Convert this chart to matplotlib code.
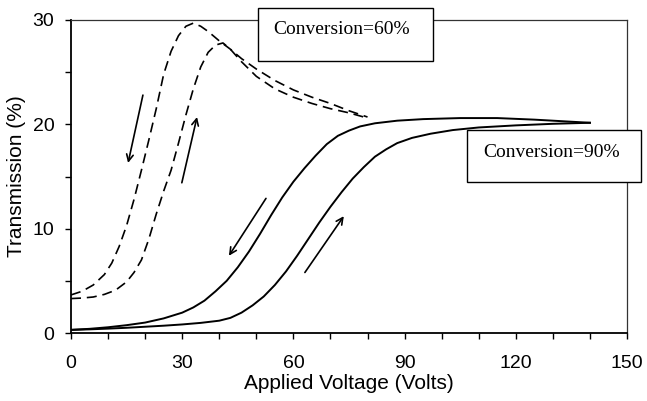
import matplotlib
matplotlib.use("Agg")
import matplotlib.pyplot as plt
from matplotlib.patches import Rectangle
from matplotlib.ticker import MultipleLocator

# Conversion = 60 % (dashed), voltage going down / going up
v60_down = [0, 3, 6, 9, 11, 13, 15, 17, 19, 21, 23, 25, 27, 29, 31, 33, 35, 37, 40, 43, 46, 50, 55, 60, 65, 70, 75, 80]
t60_down = [3.65, 4.0, 4.6, 5.6, 6.7, 8.3, 10.3, 12.8, 15.6, 18.5, 21.5, 24.8, 27.0, 28.5, 29.4, 29.7, 29.4, 28.9,
            28.0, 27.2, 26.3, 25.3, 24.2, 23.3, 22.6, 22.0, 21.3, 20.7]
v60_up = [0, 3, 6, 9, 12, 15, 17, 19, 21, 23, 25, 27, 29, 31, 33, 35, 37, 39, 41, 43, 46, 50, 55, 60, 65, 70, 75, 79]
t60_up = [3.3, 3.35, 3.45, 3.7, 4.1, 4.9, 5.8, 7.0, 9.0, 11.4, 13.6, 15.6, 18.2, 20.9, 23.4, 25.5, 26.9, 27.6,
          27.8, 27.2, 26.0, 24.6, 23.4, 22.6, 22.0, 21.5, 21.1, 20.7]

# Conversion = 90 % (solid)
v90_down = [0, 5, 10, 15, 20, 25, 30, 33, 36, 39, 42, 45, 48, 51, 54, 57, 60, 63, 66, 69, 72, 75, 78, 82, 88, 95,
            105, 115, 125, 140]
t90_down = [0.3, 0.4, 0.55, 0.75, 1.0, 1.4, 1.95, 2.45, 3.1, 4.0, 5.0, 6.3, 7.8, 9.5, 11.3, 13.0, 14.5, 15.8, 17.0,
            18.1, 18.9, 19.4, 19.8, 20.1, 20.35, 20.5, 20.6, 20.6, 20.45, 20.15]
v90_up = [0, 5, 10, 15, 20, 25, 30, 35, 40, 43, 46, 49, 52, 55, 58, 61, 64, 67, 70, 73, 76, 79, 82, 85, 88, 92, 97,
          103, 110, 120, 130, 140]
t90_up = [0.3, 0.35, 0.42, 0.5, 0.6, 0.7, 0.82, 0.97, 1.18, 1.45, 1.95, 2.65, 3.5, 4.6, 5.9, 7.4, 9.0, 10.6, 12.1,
          13.5, 14.8, 15.9, 16.9, 17.6, 18.2, 18.7, 19.1, 19.45, 19.7, 19.9, 20.05, 20.15]

# arrows (start, end)
arrows = [((19.4, 22.8), (15.4, 16.3)),
          ((29.9, 14.4), (34.0, 20.7)),
          ((52.6, 12.9), (42.6, 7.4)),
          ((63.1, 5.8), (73.6, 11.2))]

labels = ["Conversion=60%", "Conversion=90%"]

sans = "Liberation Sans"
serif = "Liberation Serif"

fig = plt.figure(figsize=(6.47, 4.01), dpi=100)
ax = fig.add_axes([71 / 647, 68 / 401, 556 / 647, 313 / 401])

ax.plot(v60_down, t60_down, color="black", lw=1.2, dashes=(6, 3.5))
ax.plot(v60_up, t60_up, color="black", lw=1.2, dashes=(6, 3.5))
ax.plot(v90_down, t90_down, color="black", lw=1.4, solid_joinstyle="round")
ax.plot(v90_up, t90_up, color="black", lw=1.4, solid_joinstyle="round")

for start, end in arrows:
    ax.annotate("", xy=end, xytext=start,
                arrowprops=dict(arrowstyle="->", lw=1.2, color="black",
                                shrinkA=0, shrinkB=0, mutation_scale=12))

ax.set_xlim(0, 150)
ax.set_ylim(0, 30)
ax.xaxis.set_major_locator(MultipleLocator(30))
ax.xaxis.set_minor_locator(MultipleLocator(10))
ax.yaxis.set_major_locator(MultipleLocator(10))
ax.yaxis.set_minor_locator(MultipleLocator(5))
ax.tick_params(which="both", direction="out", length=4, width=1, color="black")
ax.tick_params(axis="x", pad=12, labelsize=14)
ax.tick_params(axis="y", pad=8, labelsize=14)
for lab in ax.get_xticklabels() + ax.get_yticklabels():
    lab.set_fontfamily(sans)

ax.set_xlabel("Applied Voltage (Volts)", fontsize=15, family=sans, labelpad=1)
ax.set_ylabel("Transmission (%)", fontsize=15, family=sans, labelpad=5)

for s in ["left", "bottom"]:
    ax.spines[s].set_linewidth(1.3)
for s in ["top", "right"]:
    ax.spines[s].set_linewidth(0.9)
    ax.spines[s].set_color("#333333")

# text boxes (drawn over the frame)
ax.add_patch(Rectangle((50.4, 26.1), 47.3, 5.05, facecolor="white", edgecolor="black",
                       lw=1.0, clip_on=False, zorder=5))
ax.text(54.5, 29.1, labels[0], family=serif, fontsize=14, va="center", ha="left", zorder=6)
ax.add_patch(Rectangle((106.8, 14.45), 47.0, 5.05, facecolor="white", edgecolor="black",
                       lw=1.0, clip_on=False, zorder=5))
ax.text(111.2, 17.3, labels[1], family=serif, fontsize=14, va="center", ha="left",
        zorder=6, clip_on=False)

fig.savefig("out.png", dpi=100)
